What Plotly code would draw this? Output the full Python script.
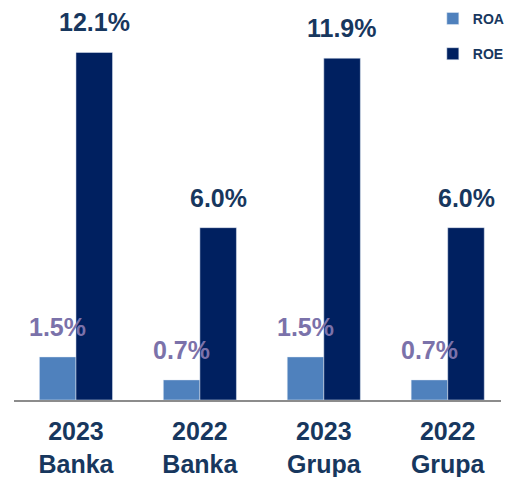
import plotly.graph_objects as go

# Return ratios by entity and year
categories = ["2023<br>Banka", "2022<br>Banka", "2023<br>Grupa", "2022<br>Grupa"]
roa = [1.5, 0.7, 1.5, 0.7]
roe = [12.1, 6.0, 11.9, 6.0]

ROA_COLOR = "#4F81BD"
ROE_COLOR = "#002060"
ROA_TEXT = "#7B72AA"
ROE_TEXT = "#17375E"
FONT = "Liberation Sans, Arial, sans-serif"

fig = go.Figure()
fig.add_bar(x=categories, y=roa, name="<b>ROA</b>", marker_color=ROA_COLOR,
            legendgroup="roa")
fig.add_bar(x=categories, y=roe, name="<b>ROE</b>", marker_color=ROE_COLOR,
            legendgroup="roe")

# value labels above each bar (half a bar width to either side of the category)
half_bar = 18.5
for cat, v in zip(categories, roa):
    fig.add_annotation(x=cat, y=v, xshift=-half_bar, yshift=14, yanchor="bottom",
                       text=f"<b>{v:.1f}%</b>", showarrow=False,
                       font=dict(family=FONT, size=25, color=ROA_TEXT))
for cat, v in zip(categories, roe):
    fig.add_annotation(x=cat, y=v, xshift=half_bar, yshift=14, yanchor="bottom",
                       text=f"<b>{v:.1f}%</b>", showarrow=False,
                       font=dict(family=FONT, size=25, color=ROE_TEXT))

fig.update_layout(
    width=510, height=477,
    margin=dict(l=14, r=0, t=20, b=77),
    paper_bgcolor="white", plot_bgcolor="white",
    barmode="group", bargap=0.41, bargroupgap=0,
    font=dict(family=FONT),
    legend=dict(x=0.86, y=1.045, xanchor="left", yanchor="top",
                font=dict(family=FONT, size=14, color=ROE_TEXT),
                tracegroupgap=14, itemwidth=30, bgcolor="rgba(0,0,0,0)"),
    showlegend=True,
)
fig.update_xaxes(showline=True, linecolor="#8C8C8C", linewidth=2,
                 range=[-0.5, 3.43],
                 ticks="", showgrid=False, ticklabelstandoff=8,
                 automargin=False,
                 tickfont=dict(family=FONT, size=25, color=ROE_TEXT),
                 tickprefix="<b>", ticksuffix="</b>")
fig.update_yaxes(range=[0, 13.23], visible=False, showgrid=False,
                 automargin=False)

fig.write_html("out.html")
